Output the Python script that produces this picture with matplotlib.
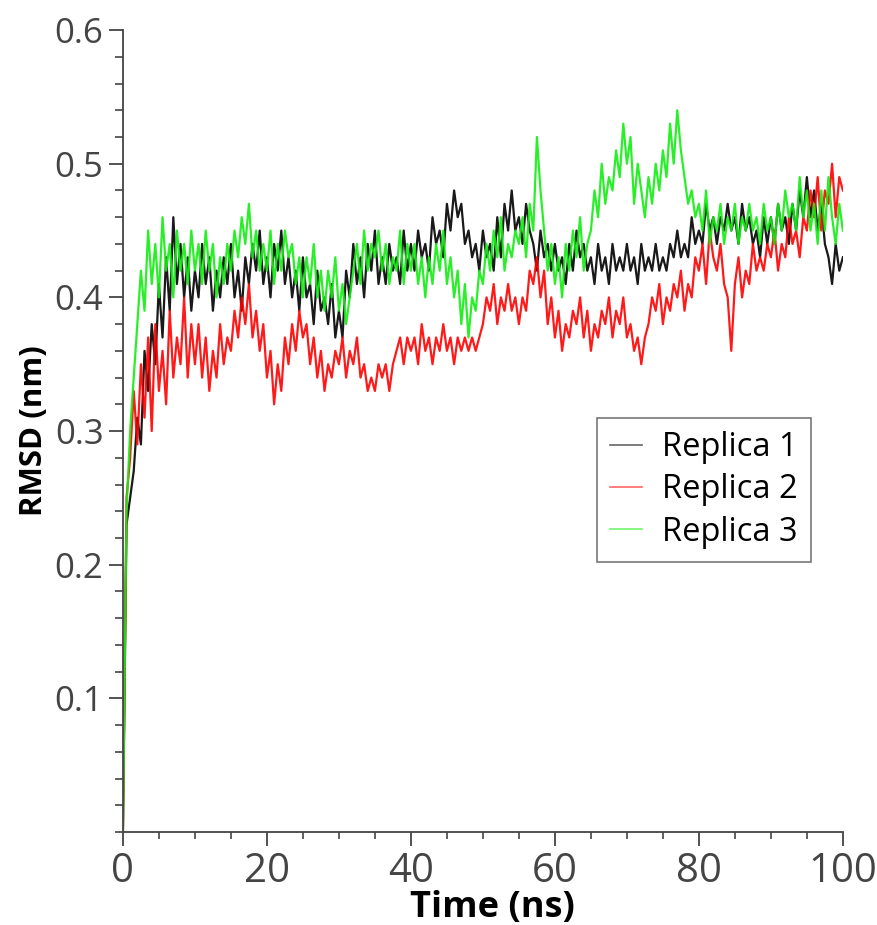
import numpy as np
import matplotlib
matplotlib.use("Agg")
import matplotlib.pyplot as plt
from matplotlib.ticker import MultipleLocator

time_ns = np.arange(0, 100.01, 0.5)

replica1 = [
    0.00, 0.23, 0.25, 0.27, 0.31, 0.29, 0.36, 0.33, 0.38, 0.35, 0.41, 0.37, 0.43, 0.39, 0.46, 0.41, 0.44, 0.40, 0.43, 0.39,
    0.42, 0.40, 0.44, 0.41, 0.43, 0.39, 0.42, 0.40, 0.43, 0.41, 0.44, 0.40, 0.42, 0.39, 0.43, 0.41, 0.44, 0.42, 0.45, 0.41,
    0.43, 0.40, 0.44, 0.42, 0.45, 0.41, 0.43, 0.40, 0.42, 0.39, 0.43, 0.40, 0.41, 0.38, 0.42, 0.39, 0.40, 0.38, 0.41, 0.37,
    0.39, 0.37, 0.42, 0.40, 0.44, 0.41, 0.43, 0.40, 0.44, 0.42, 0.45, 0.41, 0.43, 0.41, 0.44, 0.42, 0.43, 0.41, 0.45, 0.42,
    0.44, 0.42, 0.45, 0.43, 0.44, 0.42, 0.46, 0.44, 0.45, 0.43, 0.47, 0.45, 0.48, 0.46, 0.47, 0.44, 0.45, 0.43, 0.44, 0.42,
    0.45, 0.43, 0.44, 0.42, 0.46, 0.43, 0.47, 0.45, 0.48, 0.45, 0.46, 0.44, 0.47, 0.45, 0.44, 0.42, 0.45, 0.43, 0.44, 0.42,
    0.44, 0.42, 0.43, 0.41, 0.44, 0.42, 0.45, 0.43, 0.44, 0.42, 0.43, 0.41, 0.44, 0.42, 0.43, 0.41, 0.44, 0.42, 0.43, 0.42,
    0.44, 0.42, 0.43, 0.41, 0.44, 0.42, 0.43, 0.42, 0.44, 0.42, 0.43, 0.42, 0.44, 0.43, 0.45, 0.43, 0.44, 0.43, 0.46, 0.44,
    0.45, 0.44, 0.47, 0.45, 0.46, 0.44, 0.46, 0.45, 0.47, 0.45, 0.46, 0.44, 0.47, 0.45, 0.46, 0.44, 0.45, 0.43, 0.46, 0.44,
    0.46, 0.44, 0.47, 0.45, 0.46, 0.44, 0.47, 0.45, 0.48, 0.46, 0.49, 0.46, 0.48, 0.45, 0.47, 0.44, 0.43, 0.41, 0.44, 0.42,
    0.43,
]

replica2 = [
    0.00, 0.25, 0.28, 0.33, 0.29, 0.35, 0.31, 0.37, 0.30, 0.38, 0.33, 0.36, 0.32, 0.39, 0.34, 0.37, 0.35, 0.40, 0.34, 0.38,
    0.35, 0.38, 0.34, 0.37, 0.33, 0.36, 0.34, 0.38, 0.35, 0.37, 0.36, 0.39, 0.37, 0.40, 0.38, 0.41, 0.37, 0.39, 0.36, 0.38,
    0.34, 0.36, 0.32, 0.35, 0.33, 0.37, 0.35, 0.38, 0.36, 0.39, 0.37, 0.38, 0.35, 0.37, 0.34, 0.36, 0.33, 0.35, 0.34, 0.36,
    0.35, 0.37, 0.34, 0.36, 0.35, 0.37, 0.34, 0.35, 0.33, 0.34, 0.33, 0.35, 0.34, 0.35, 0.33, 0.35, 0.36, 0.37, 0.35, 0.37,
    0.36, 0.37, 0.35, 0.38, 0.36, 0.37, 0.35, 0.37, 0.36, 0.38, 0.36, 0.37, 0.35, 0.37, 0.36, 0.37, 0.36, 0.37, 0.36, 0.37,
    0.38, 0.40, 0.39, 0.41, 0.38, 0.40, 0.39, 0.41, 0.39, 0.40, 0.38, 0.40, 0.39, 0.42, 0.41, 0.43, 0.40, 0.42, 0.38, 0.40,
    0.37, 0.39, 0.36, 0.38, 0.37, 0.39, 0.38, 0.40, 0.37, 0.39, 0.36, 0.38, 0.37, 0.39, 0.38, 0.40, 0.37, 0.39, 0.38, 0.40,
    0.37, 0.38, 0.36, 0.37, 0.35, 0.37, 0.38, 0.40, 0.39, 0.41, 0.38, 0.40, 0.39, 0.41, 0.40, 0.42, 0.39, 0.41, 0.40, 0.43,
    0.42, 0.44, 0.41, 0.45, 0.43, 0.42, 0.44, 0.41, 0.40, 0.36, 0.41, 0.43, 0.40, 0.42, 0.41, 0.44, 0.42, 0.43, 0.42, 0.44,
    0.43, 0.45, 0.42, 0.44, 0.43, 0.46, 0.44, 0.45, 0.43, 0.46, 0.45, 0.48, 0.46, 0.49, 0.45, 0.48, 0.47, 0.50, 0.46, 0.49,
    0.48,
]

replica3 = [
    0.00, 0.24, 0.30, 0.34, 0.38, 0.42, 0.39, 0.45, 0.41, 0.44, 0.40, 0.46, 0.42, 0.44, 0.40, 0.45, 0.42, 0.44, 0.41, 0.45,
    0.42, 0.44, 0.41, 0.45, 0.42, 0.44, 0.40, 0.43, 0.41, 0.44, 0.42, 0.45, 0.43, 0.46, 0.44, 0.47, 0.43, 0.45, 0.42, 0.44,
    0.42, 0.45, 0.41, 0.44, 0.42, 0.45, 0.43, 0.44, 0.41, 0.43, 0.40, 0.43, 0.41, 0.44, 0.40, 0.42, 0.39, 0.42, 0.40, 0.43,
    0.39, 0.41, 0.38, 0.40, 0.42, 0.44, 0.41, 0.45, 0.42, 0.44, 0.43, 0.45, 0.42, 0.44, 0.41, 0.43, 0.42, 0.45, 0.41, 0.44,
    0.42, 0.44, 0.41, 0.43, 0.40, 0.43, 0.41, 0.44, 0.42, 0.45, 0.41, 0.43, 0.40, 0.42, 0.38, 0.41, 0.37, 0.40, 0.39, 0.42,
    0.41, 0.44, 0.42, 0.45, 0.43, 0.46, 0.42, 0.44, 0.43, 0.45, 0.44, 0.46, 0.43, 0.47, 0.45, 0.52, 0.48, 0.45, 0.42, 0.44,
    0.41, 0.43, 0.40, 0.44, 0.42, 0.45, 0.43, 0.46, 0.42, 0.44, 0.45, 0.48, 0.46, 0.50, 0.47, 0.49, 0.48, 0.51, 0.49, 0.53,
    0.50, 0.52, 0.47, 0.50, 0.48, 0.46, 0.49, 0.47, 0.50, 0.48, 0.51, 0.49, 0.53, 0.50, 0.54, 0.51, 0.49, 0.47, 0.48, 0.46,
    0.47, 0.45, 0.48, 0.44, 0.46, 0.45, 0.47, 0.44, 0.46, 0.45, 0.47, 0.44, 0.46, 0.45, 0.47, 0.45, 0.46, 0.44, 0.47, 0.45,
    0.46, 0.44, 0.47, 0.45, 0.48, 0.46, 0.47, 0.45, 0.49, 0.46, 0.48, 0.45, 0.47, 0.44, 0.48, 0.45, 0.49, 0.46, 0.44, 0.47,
    0.45,
]

labels = ["Replica 1", "Replica 2", "Replica 3"]
colors = ["#000000", "#ff0000", "#11ee11"]

plt.rcParams['font.family'] = ['Open Sans', 'DejaVu Sans']

fig = plt.figure(figsize=(8.78, 9.25), dpi=100)
ax = fig.add_axes([0.140, 0.1005, 0.820, 0.867])

for ys, lab, c in zip([replica1, replica2, replica3], labels, colors):
    ax.plot(time_ns, ys, color=c, lw=1.6, alpha=0.9, label=lab)

ax.set_xlim(0, 100)
ax.set_ylim(0, 0.6)
ax.xaxis.set_major_locator(MultipleLocator(20))
ax.xaxis.set_minor_locator(MultipleLocator(5))
ax.yaxis.set_major_locator(MultipleLocator(0.1))
ax.yaxis.set_minor_locator(MultipleLocator(0.02))
ax.set_yticks([0.1, 0.2, 0.3, 0.4, 0.5, 0.6])
ax.set_yticklabels(["0.1", "0.2", "0.3", "0.4", "0.5", "0.6"])

ax.spines['top'].set_visible(False)
ax.spines['right'].set_visible(False)
for s in ['left', 'bottom']:
    ax.spines[s].set_color('#444444')
    ax.spines[s].set_linewidth(1.3)

ax.tick_params(axis='x', which='major', length=10, width=1.3, color='#444444',
               labelsize=29, labelcolor='#444444', pad=4)
ax.tick_params(axis='x', which='minor', length=5, width=1.2, color='#444444')
ax.tick_params(axis='y', which='major', length=10, width=1.3, color='#444444',
               labelsize=25, labelcolor='#444444', pad=4)
ax.tick_params(axis='y', which='minor', length=6, width=1.2, color='#444444')

ax.set_xlabel('Time (ns)', fontsize=26, fontweight='bold')
ax.xaxis.set_label_coords(0.513, -0.072)
ax.set_ylabel('RMSD (nm)', fontsize=22.5, fontweight='bold', labelpad=4)

leg = ax.legend(loc='upper left', bbox_to_anchor=(0.658, 0.516), fontsize=23.5,
                frameon=True, fancybox=False, handlelength=1.0, handletextpad=0.6,
                borderpad=0.4, labelspacing=0.28, borderaxespad=0)
leg.get_frame().set_edgecolor('#555555')
leg.get_frame().set_linewidth(1.2)
for line in leg.get_lines():
    line.set_linewidth(1.2)
    line.set_alpha(0.6)

fig.savefig('out.png', dpi=100)
